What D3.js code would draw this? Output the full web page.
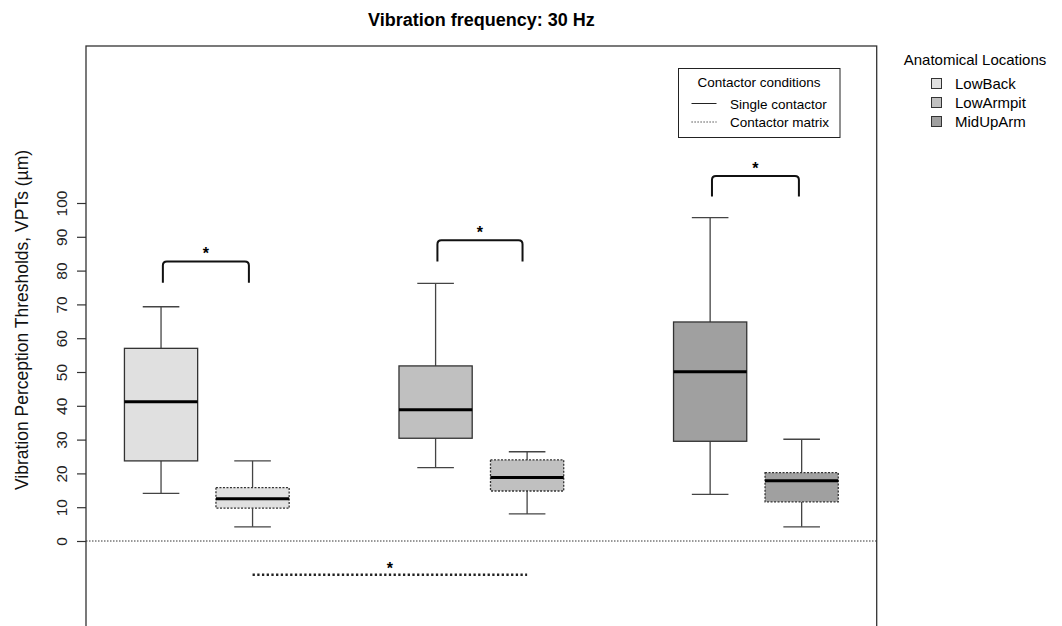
<!DOCTYPE html>
<html>
<head>
<meta charset="utf-8">
<script src="https://cdn.jsdelivr.net/npm/d3@7"></script>
<style>
  body { margin: 0; background: #fff; }
  svg { font-family: "Liberation Sans", Arial, sans-serif; }
</style>
</head>
<body>
<div id="chart"></div>
<script>
// groups and conditions
var locations = ["LowBack", "LowArmpit", "MidUpArm"];
var locationColors = ["#e0e0e0", "#c0c0c0", "#a0a0a0"];
var conditions = ["Single contactor", "Contactor matrix"];

// one entry per box, in drawing order
var boxLocation = [0, 0, 1, 1, 2, 2];
var boxCondition = [0, 1, 0, 1, 0, 1];
var positions = [1, 2, 4, 5, 7, 8];
var whiskerLow = [14.1, 4.2, 21.7, 8.0, 13.8, 4.2];
var q1 = [23.7, 9.7, 30.4, 14.8, 29.5, 11.6];
var medians = [41.2, 12.5, 38.8, 18.8, 50.1, 17.8];
var q3 = [57.0, 15.8, 51.8, 24.0, 64.8, 20.2];
var whiskerHigh = [69.3, 23.7, 76.2, 26.4, 95.7, 30.1];

// significance brackets (single vs matrix, per location)
var bracketFrom = [1.02, 4.02, 7.02];
var bracketTo = [1.96, 4.95, 7.97];
var bracketTop = [82.7, 89.0, 108.0];
var bracketLeg = [76.4, 82.7, 101.9];

// overall comparison below zero
var overallFrom = 2, overallTo = 5, overallY = -10, overallStarY = -7.2;

var yTicks = d3.range(0, 101, 10);

var width = 1062, height = 626;
var plot = { left: 86, right: 876.7, top: 46, bottom: 640 };

var svg = d3.select("#chart").append("svg")
    .attr("width", width)
    .attr("height", height);

var x = d3.scaleLinear().domain([0.18, 8.82]).range([plot.left, plot.right]);
var y = d3.scaleLinear().domain([0, 100]).range([541, 203]);

var boxHalf = 0.4, capHalf = 0.2;

// title
svg.append("text")
    .attr("x", (plot.left + plot.right) / 2)
    .attr("y", 26)
    .attr("text-anchor", "middle")
    .style("font-size", "18px")
    .style("font-weight", "bold")
    .text("Vibration frequency: 30 Hz");

// zero reference line
svg.append("line")
    .attr("x1", plot.left).attr("x2", plot.right)
    .attr("y1", y(0)).attr("y2", y(0))
    .style("stroke", "#333")
    .style("stroke-width", 1)
    .style("stroke-dasharray", "1.5,1.5");

// boxes
var boxes = svg.selectAll(".box")
    .data(positions.map(function (p, i) { return i; }))
    .enter()
    .append("g")
    .attr("class", "box");

boxes.append("line")
    .attr("x1", function (i) { return x(positions[i]); })
    .attr("x2", function (i) { return x(positions[i]); })
    .attr("y1", function (i) { return y(whiskerHigh[i]); })
    .attr("y2", function (i) { return y(q3[i]); })
    .style("stroke", "#444").style("stroke-width", 1.3);

boxes.append("line")
    .attr("x1", function (i) { return x(positions[i]); })
    .attr("x2", function (i) { return x(positions[i]); })
    .attr("y1", function (i) { return y(q1[i]); })
    .attr("y2", function (i) { return y(whiskerLow[i]); })
    .style("stroke", "#444").style("stroke-width", 1.3);

[whiskerHigh, whiskerLow].forEach(function (arr) {
    boxes.append("line")
        .attr("x1", function (i) { return x(positions[i] - capHalf); })
        .attr("x2", function (i) { return x(positions[i] + capHalf); })
        .attr("y1", function (i) { return y(arr[i]); })
        .attr("y2", function (i) { return y(arr[i]); })
        .style("stroke", "#444").style("stroke-width", 1.3);
});

boxes.append("rect")
    .attr("x", function (i) { return x(positions[i] - boxHalf); })
    .attr("width", function (i) { return x(positions[i] + boxHalf) - x(positions[i] - boxHalf); })
    .attr("y", function (i) { return y(q3[i]); })
    .attr("height", function (i) { return y(q1[i]) - y(q3[i]); })
    .style("fill", function (i) { return locationColors[boxLocation[i]]; })
    .style("stroke", "#333")
    .style("stroke-width", 1.3)
    .style("stroke-dasharray", function (i) { return boxCondition[i] === 1 ? "2,1.5" : null; });

boxes.append("line")
    .attr("x1", function (i) { return x(positions[i] - boxHalf); })
    .attr("x2", function (i) { return x(positions[i] + boxHalf); })
    .attr("y1", function (i) { return y(medians[i]); })
    .attr("y2", function (i) { return y(medians[i]); })
    .style("stroke", "#000").style("stroke-width", 3);

// brackets
var r = 4;
bracketFrom.forEach(function (b, k) {
    var x1 = x(bracketFrom[k]), x2 = x(bracketTo[k]);
    var yt = y(bracketTop[k]), yl = y(bracketLeg[k]);
    svg.append("path")
        .attr("d", "M" + x1 + "," + yl + " L" + x1 + "," + (yt + r) +
            " Q" + x1 + "," + yt + " " + (x1 + r) + "," + yt +
            " L" + (x2 - r) + "," + yt +
            " Q" + x2 + "," + yt + " " + x2 + "," + (yt + r) +
            " L" + x2 + "," + yl)
        .style("fill", "none")
        .style("stroke", "#111")
        .style("stroke-width", 2);
    svg.append("text")
        .attr("x", (x1 + x2) / 2)
        .attr("y", yt - 2)
        .attr("text-anchor", "middle")
        .style("font-size", "16px")
        .style("font-weight", "bold")
        .text("*");
});

// overall comparison line
svg.append("line")
    .attr("x1", x(overallFrom)).attr("x2", x(overallTo))
    .attr("y1", y(overallY)).attr("y2", y(overallY))
    .style("stroke", "#222")
    .style("stroke-width", 2.5)
    .style("stroke-dasharray", "2.3,2.4");

svg.append("text")
    .attr("x", x((overallFrom + overallTo) / 2))
    .attr("y", y(overallStarY) + 9)
    .attr("text-anchor", "middle")
    .style("font-size", "16px")
    .style("font-weight", "bold")
    .text("*");

// frame
svg.append("rect")
    .attr("x", plot.left).attr("y", plot.top)
    .attr("width", plot.right - plot.left)
    .attr("height", plot.bottom - plot.top)
    .style("fill", "none")
    .style("stroke", "#333")
    .style("stroke-width", 1.3);

// y axis
var yAxis = svg.append("g")
    .attr("transform", "translate(" + plot.left + ",0)")
    .call(d3.axisLeft(y).tickValues(yTicks).tickSize(9).tickPadding(0).tickFormat(d3.format("d")));
yAxis.select(".domain").remove();
yAxis.selectAll(".tick line").style("stroke", "#333").style("stroke-width", 1.2);
yAxis.selectAll(".tick text")
    .attr("x", 0).attr("dy", 0)
    .attr("transform", "translate(-19,0) rotate(-90)")
    .attr("text-anchor", "middle")
    .style("font-size", "15.5px")
    .style("font-family", "Liberation Sans, Arial, sans-serif")
    .style("fill", "#222");

svg.append("text")
    .attr("transform", "translate(28,320) rotate(-90)")
    .attr("text-anchor", "middle")
    .style("font-size", "17.5px")
    .style("fill", "#111")
    .text("Vibration Perception Thresholds, VPTs (µm)");

// legend: contactor conditions
var lg = svg.append("g");
lg.append("rect")
    .attr("x", 678.5).attr("y", 68.5)
    .attr("width", 161.5).attr("height", 69)
    .style("fill", "#fff").style("stroke", "#222").style("stroke-width", 1);
lg.append("text")
    .attr("x", 759).attr("y", 86.5)
    .attr("text-anchor", "middle")
    .style("font-size", "13.5px")
    .text("Contactor conditions");
conditions.forEach(function (c, i) {
    var yy = 103.5 + i * 18.5;
    lg.append("line")
        .attr("x1", 691.5).attr("x2", 716.5)
        .attr("y1", yy).attr("y2", yy)
        .style("stroke", "#222").style("stroke-width", 1)
        .style("stroke-dasharray", i === 1 ? "1.2,1.8" : null);
    lg.append("text")
        .attr("x", 730).attr("y", yy + 5)
        .style("font-size", "13.5px")
        .text(c);
});

// legend: anatomical locations
var la = svg.append("g");
la.append("text")
    .attr("x", 975).attr("y", 65)
    .attr("text-anchor", "middle")
    .style("font-size", "15px")
    .text("Anatomical Locations");
locations.forEach(function (l, i) {
    var yy = 83.5 + i * 19;
    la.append("rect")
        .attr("x", 931.5).attr("y", yy - 5)
        .attr("width", 10).attr("height", 10)
        .style("fill", locationColors[i])
        .style("stroke", "#333").style("stroke-width", 1);
    la.append("text")
        .attr("x", 955).attr("y", yy + 5.5)
        .style("font-size", "15px")
        .text(l);
});
</script>
</body>
</html>
